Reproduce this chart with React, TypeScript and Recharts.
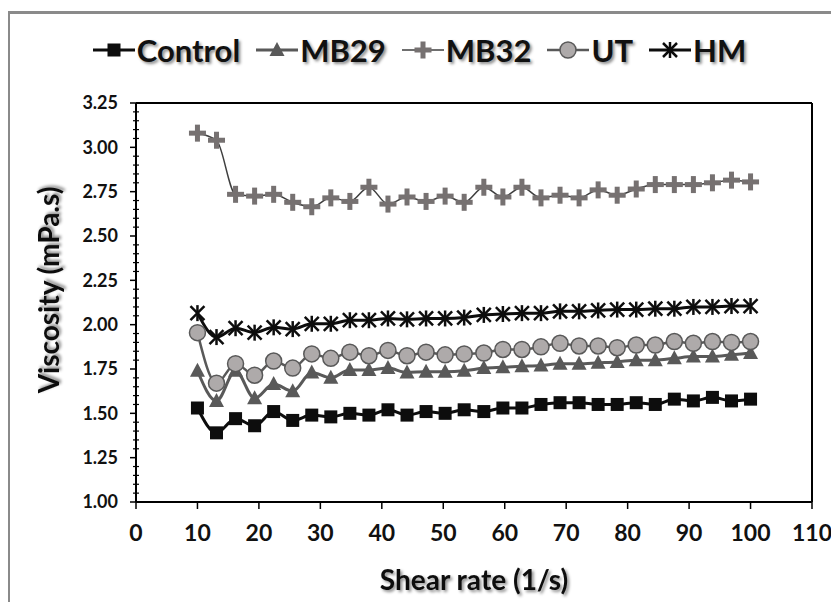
import React from 'react';
import { LineChart, Line, XAxis, YAxis, Legend, ReferenceLine } from 'recharts';

// shear rate (1/s)
const shearRate = [10, 13.1, 16.2, 19.3, 22.4, 25.5, 28.6, 31.7, 34.8, 37.9, 41.0, 44.1, 47.2, 50.3, 53.4,
  56.6, 59.7, 62.8, 65.9, 69.0, 72.1, 75.2, 78.3, 81.4, 84.5, 87.6, 90.7, 93.8, 96.9, 100];

const control = [1.53, 1.39, 1.47, 1.43, 1.51, 1.46, 1.49, 1.48, 1.50, 1.49, 1.52, 1.49, 1.51, 1.50, 1.52,
  1.51, 1.53, 1.53, 1.55, 1.56, 1.56, 1.55, 1.55, 1.56, 1.55, 1.58, 1.57, 1.59, 1.57, 1.58];
const mb29 = [1.74, 1.57, 1.74, 1.585, 1.665, 1.625, 1.73, 1.70, 1.745, 1.745, 1.755, 1.73, 1.735, 1.735, 1.74,
  1.755, 1.76, 1.765, 1.77, 1.78, 1.78, 1.785, 1.79, 1.80, 1.80, 1.81, 1.82, 1.82, 1.83, 1.84];
const mb32 = [3.08, 3.04, 2.735, 2.725, 2.735, 2.69, 2.665, 2.715, 2.695, 2.775, 2.68, 2.72, 2.695, 2.725, 2.69,
  2.775, 2.72, 2.775, 2.715, 2.73, 2.715, 2.76, 2.73, 2.765, 2.79, 2.79, 2.79, 2.80, 2.815, 2.805];
const ut = [1.955, 1.67, 1.78, 1.715, 1.795, 1.755, 1.835, 1.81, 1.845, 1.825, 1.855, 1.825, 1.845, 1.83, 1.835,
  1.84, 1.86, 1.86, 1.875, 1.895, 1.88, 1.88, 1.87, 1.885, 1.885, 1.905, 1.895, 1.905, 1.90, 1.905];
const hm = [2.065, 1.93, 1.98, 1.955, 1.985, 1.975, 2.005, 2.005, 2.025, 2.025, 2.035, 2.03, 2.035, 2.035, 2.04,
  2.055, 2.06, 2.065, 2.065, 2.075, 2.075, 2.08, 2.085, 2.085, 2.09, 2.09, 2.10, 2.10, 2.105, 2.105];

const xTicks = [0, 10, 20, 30, 40, 50, 60, 70, 80, 90, 100, 110];
const yTicks = [1.0, 1.25, 1.5, 1.75, 2.0, 2.25, 2.5, 2.75, 3.0, 3.25];
// minor ticks every 0.05
const yMinorTicks = Array.from({ length: 46 }, (_, i) => Math.round((1 + i * 0.05) * 100) / 100);

const data = shearRate.map((x, i) => ({
  x, control: control[i], mb29: mb29[i], mb32: mb32[i], ut: ut[i], hm: hm[i],
}));

type Shape = 'square' | 'triangle' | 'plus' | 'circle' | 'star';

const series: { key: string; name: string; stroke: string; width: number; shape: Shape }[] = [
  { key: 'control', name: 'Control', stroke: '#0d0d0d', width: 3, shape: 'square' },
  { key: 'mb29', name: 'MB29', stroke: '#595959', width: 3, shape: 'triangle' },
  { key: 'mb32', name: 'MB32', stroke: '#3f3f3f', width: 1.5, shape: 'plus' },
  { key: 'ut', name: 'UT', stroke: '#595959', width: 2.5, shape: 'circle' },
  { key: 'hm', name: 'HM', stroke: '#0d0d0d', width: 3, shape: 'star' },
];

const FONT = 'Lato, "Open Sans", sans-serif';

const Marker = ({ shape, cx, cy }: { shape: Shape; cx: number; cy: number }) => {
  switch (shape) {
    case 'square':
      return <rect x={cx - 6.5} y={cy - 6.5} width={13} height={13} fill="#0d0d0d" />;
    case 'triangle':
      return <polygon points={`${cx},${cy - 8} ${cx + 7.5},${cy + 6} ${cx - 7.5},${cy + 6}`} fill="#595959" />;
    case 'plus':
      return (
        <g fill="#767171">
          <rect x={cx - 8.5} y={cy - 2.5} width={17} height={5} />
          <rect x={cx - 2.5} y={cy - 8.5} width={5} height={17} />
        </g>
      );
    case 'circle':
      return <circle cx={cx} cy={cy} r={8} fill="#aeaaaa" stroke="#595959" strokeWidth={1.5} />;
    case 'star':
      return (
        <g stroke="#0d0d0d" strokeWidth={2.5}>
          <line x1={cx - 7} y1={cy - 7} x2={cx + 7} y2={cy + 7} />
          <line x1={cx - 7} y1={cy + 7} x2={cx + 7} y2={cy - 7} />
          <line x1={cx} y1={cy - 8} x2={cx} y2={cy + 8} />
        </g>
      );
  }
  return null;
};

const LegendContent = () => (
  <div style={{ display: 'flex', justifyContent: 'center', alignItems: 'center', gap: 16, height: 40 }}>
    {series.map((s) => (
      <div key={s.key} style={{ display: 'flex', alignItems: 'center' }}>
        <svg width={42} height={22}>
          <line x1={0} y1={11} x2={42} y2={11} stroke={s.stroke} strokeWidth={s.width} />
          <Marker shape={s.shape} cx={21} cy={11} />
        </svg>
        <span style={{
          fontFamily: FONT, fontWeight: 700, fontSize: 31, color: '#111', lineHeight: '40px',
          textShadow: '2px 2px 3px rgba(0,0,0,0.45)', marginLeft: 2,
        }}>{s.name}</span>
      </div>
    ))}
  </div>
);

const YTick = (props: any) => {
  const { x, y, payload } = props;
  const v = payload.value as number;
  const major = Math.abs(v * 4 - Math.round(v * 4)) < 1e-6;
  return (
    <g>
      {major ? (
        <>
          <line x1={x - 6} y1={y} x2={x} y2={y} stroke="#000" strokeWidth={1.5} />
          <text x={x - 18} y={y} dy="0.35em" textAnchor="end" fontFamily={FONT} fontWeight={700} fontSize={18} fill="#111">
            {v.toFixed(2)}
          </text>
        </>
      ) : (
        <line x1={x - 3} y1={y} x2={x + 3} y2={y} stroke="#000" strokeWidth={1.2} />
      )}
    </g>
  );
};

export default function App() {
  return (
    <div style={{ position: 'relative', width: 839, height: 610, margin: -8, overflow: 'hidden', background: '#fff' }}>
      <svg width={0} height={0} style={{ position: 'absolute' }}>
        <defs>
          <filter id="txtShadow" x="-10%" y="-10%" width="130%" height="140%">
            <feDropShadow dx={2} dy={2} stdDeviation={1.5} floodColor="#000" floodOpacity={0.45} />
          </filter>
        </defs>
      </svg>
      <div style={{
        position: 'absolute', left: 7, top: 11, width: 900, height: 700,
        border: '3px solid #8a8a8a', boxSizing: 'border-box',
      }} />
      <div style={{ position: 'absolute', left: 0, top: 0 }}>
        <LineChart width={839} height={610} data={data} margin={{ top: 63, right: 27, left: 0, bottom: 0 }}>
          <Legend verticalAlign="top" content={<LegendContent />} wrapperStyle={{ top: 30, left: 0, width: 839 }} />
          <XAxis
            dataKey="x" type="number" domain={[0, 110]} ticks={xTicks} height={108}
            axisLine={{ stroke: '#000', strokeWidth: 2 }} tickLine={{ stroke: '#000', strokeWidth: 1.5 }}
            tickSize={7} tickMargin={16}
            tick={{ fontFamily: FONT, fontWeight: 700, fontSize: 23, fill: '#111' }}
            label={{
              content: () => (
                <text x={474} y={590} textAnchor="middle" fontFamily={FONT} fontWeight={700} fontSize={28}
                  fill="#111" filter="url(#txtShadow)">Shear rate (1/s)</text>
              ),
            }}
          />
          <YAxis
            type="number" domain={[1, 3.25]} ticks={yMinorTicks} interval={0} width={136}
            axisLine={{ stroke: '#000', strokeWidth: 2 }} tickLine={false} tickSize={0} tickMargin={0}
            tick={<YTick />}
            label={{
              content: () => (
                <text transform="translate(59,290) rotate(-90)" textAnchor="middle" fontFamily={FONT}
                  fontWeight={700} fontSize={28} fill="#111" filter="url(#txtShadow)">Viscosity (mPa.s)</text>
              ),
            }}
          />
          <ReferenceLine y={3.25} stroke="#000" strokeWidth={2} />
          <ReferenceLine x={110} stroke="#000" strokeWidth={2} />
          {series.map((s) => (
            <Line
              key={s.key} dataKey={s.key} name={s.name} type="monotone" stroke={s.stroke} strokeWidth={s.width}
              isAnimationActive={false} activeDot={false}
              dot={(p: any) => <Marker key={`${s.key}-${p.index}`} shape={s.shape} cx={p.cx} cy={p.cy} />}
            />
          ))}
        </LineChart>
      </div>
    </div>
  );
}
